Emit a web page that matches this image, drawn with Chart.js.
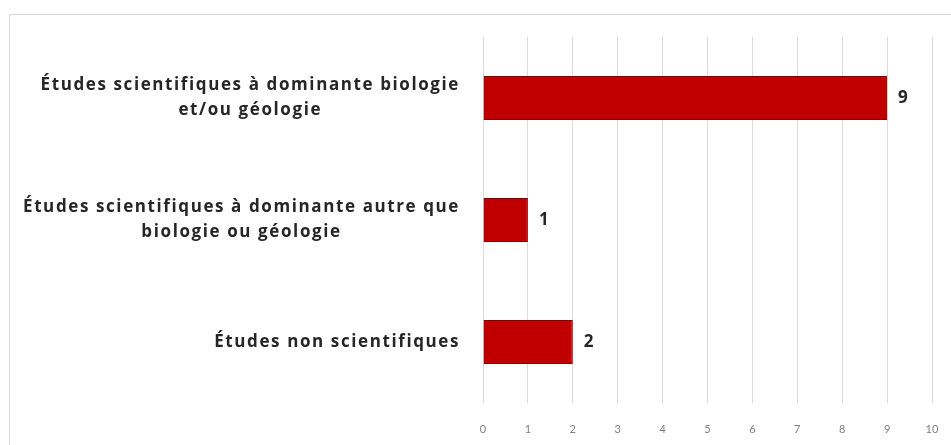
<!DOCTYPE html>
<html>
<head>
<meta charset="utf-8">
<script src="https://cdn.jsdelivr.net/npm/chart.js@4"></script>
<style>
  body { margin: 0; background: #fff; }
  #wrap { position: relative; width: 951px; height: 445px; overflow: hidden; }
  #frame { position: absolute; left: 9px; top: 14px; width: 1000px; height: 500px; border: 1px solid #d9d9d9; box-sizing: border-box; }
  #myChart { position: absolute; left: 0; top: 0; }
</style>
</head>
<body>
<div id="wrap">
  <div id="frame"></div>
  <canvas id="myChart" width="951" height="445"></canvas>
</div>
<script>
const categories = [
  ['Études scientifiques à dominante biologie', 'et/ou géologie'],
  ['Études scientifiques à dominante autre que', 'biologie ou géologie'],
  ['Études non scientifiques']
];
const values = [9, 1, 2];
const xTicks = [0, 1, 2, 3, 4, 5, 6, 7, 8, 9, 10];

const labelFont = 'bold 17px "Open Sans"';

// category labels: block right aligned, lines centred inside it (like Excel); value labels after the bars
const labelsPlugin = {
  id: 'labels',
  afterDraw(chart) {
    const ctx = chart.ctx;
    const yScale = chart.scales.y;
    const meta = chart.getDatasetMeta(0);
    ctx.save();
    ctx.font = labelFont;
    ctx.letterSpacing = '1.6px';
    ctx.fillStyle = '#262626';
    ctx.textBaseline = 'middle';
    ctx.textAlign = 'center';
    categories.forEach((lines, i) => {
      const y = yScale.getPixelForValue(i);
      const w = Math.max(...lines.map(l => ctx.measureText(l).width));
      const cx = 460 - w / 2;
      const lh = 25;
      lines.forEach((l, j) => {
        ctx.fillText(l, cx, y + (j - (lines.length - 1) / 2) * lh);
      });
    });
    ctx.letterSpacing = '0px';
    ctx.font = 'bold 17px "Open Sans"';
    ctx.textAlign = 'left';
    meta.data.forEach((bar, i) => {
      ctx.fillText(String(values[i]), bar.x + 11, bar.y);
    });
    ctx.restore();
  }
};

const ctx = document.getElementById('myChart');
myChart = new Chart(ctx, {
  type: 'bar',
  data: {
    labels: categories,
    datasets: [{
      data: values,
      backgroundColor: '#c00000',
      borderColor: '#800000',
      borderWidth: 1,
      barPercentage: 0.36,
      categoryPercentage: 1
    }]
  },
  options: {
    indexAxis: 'y',
    responsive: false,
    animation: false,
    layout: { padding: { left: 483, right: 19, top: 37, bottom: 8 } },
    plugins: { legend: { display: false }, tooltip: { enabled: false } },
    scales: {
      x: {
        min: 0,
        max: 10,
        afterBuildTicks: (s) => { s.ticks = xTicks.map(v => ({ value: v })); },
        afterFit: (s) => { s.height = 34; s.paddingLeft = 0; s.paddingRight = 0; },
        grid: { color: '#d9d9d9', drawTicks: false },
        border: { display: false },
        ticks: { color: '#7f7f7f', font: { family: 'Lato', size: 11 }, padding: 20, maxRotation: 0 }
      },
      y: {
        display: false
      }
    }
  },
  plugins: [labelsPlugin]
});
</script>
</body>
</html>
